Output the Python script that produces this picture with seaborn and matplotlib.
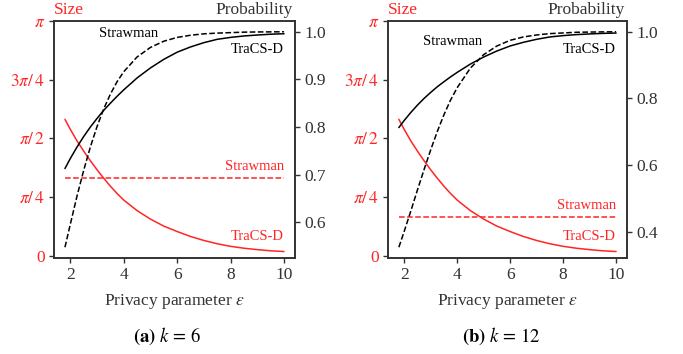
import numpy as np
import pandas as pd
import matplotlib
matplotlib.use("Agg")
import matplotlib.pyplot as plt
import seaborn as sns

# ---------------- data ----------------
eps = [1.8, 2.0, 2.25, 2.5, 2.75, 3.0, 3.25, 3.5, 3.75, 4.0, 4.5, 5.0, 5.5,
       6.0, 6.5, 7.0, 7.5, 8.0, 8.5, 9.0, 9.5, 10.0]
tracs_prob = [0.713, 0.734, 0.758, 0.780, 0.800, 0.818, 0.835, 0.850, 0.8645,
              0.878, 0.903, 0.924, 0.942, 0.957, 0.968, 0.977, 0.984, 0.988,
              0.991, 0.993, 0.9947, 0.9957]
straw_prob_k6 = [0.548, 0.596, 0.655, 0.709, 0.758, 0.801, 0.838, 0.869, 0.895,
                 0.916, 0.947, 0.967, 0.980, 0.988, 0.9925, 0.9955, 0.997,
                 0.998, 0.999, 0.9994, 0.9996, 0.9998]
straw_prob_k12 = [0.355, 0.402, 0.463, 0.526, 0.587, 0.646, 0.701, 0.751,
                  0.795, 0.832, 0.891, 0.931, 0.957, 0.974, 0.984, 0.990,
                  0.994, 0.996, 0.998, 0.9986, 0.9992, 0.9995]
# TraCS-D size, in units of pi
tracs_size_pi = [0.5815, 0.539, 0.490, 0.4465, 0.4055, 0.367, 0.331, 0.297,
                 0.266, 0.238, 0.193, 0.157, 0.127, 0.104, 0.083, 0.066,
                 0.052, 0.041, 0.033, 0.027, 0.022, 0.019]
straw_eps = [1.8, 10.0]
straw_size_k6 = [1.047, 1.047]
straw_size_k12 = [0.524, 0.524]

size_ticks = [0, np.pi / 4, np.pi / 2, 3 * np.pi / 4, np.pi]
size_ticklabels = ["0", r"$\pi/\,4$", r"$\pi/\,2$", r"$3\pi/\,4$", r"$\pi$"]
prob_ticks_k6 = [0.6, 0.7, 0.8, 0.9, 1.0]
prob_ticks_k12 = [0.4, 0.6, 0.8, 1.0]
captions = [r"$\mathbf{(a)}\ k\,=\,6$", r"$\mathbf{(b)}\ k\,=\,12$"]

# ---------------- style ----------------
sns.set_style("ticks")
plt.rcParams["font.family"] = ["Liberation Serif", "DejaVu Serif"]
plt.rcParams["mathtext.fontset"] = "stix"

RED = "#ff2525"
DARK = "#333333"
W, H = 683, 354

fig = plt.figure(figsize=(W / 100, H / 100), dpi=100)

panels = [
    dict(left=54, right=295, straw_prob=straw_prob_k6, straw_size=straw_size_k6,
         pticks=prob_ticks_k6, cap=captions[0], capx=167,
         sw_xy=(4.19, 0.997), tr_y=0.962, rs_y=0.379 * np.pi, rt_y=0.085 * np.pi),
    dict(left=388, right=627, straw_prob=straw_prob_k12, straw_size=straw_size_k12,
         pticks=prob_ticks_k12, cap=captions[1], capx=501,
         sw_xy=(3.84, 0.969), tr_y=0.947, rs_y=0.216 * np.pi, rt_y=0.082 * np.pi),
]
top, bottom = 21, 258

for p in panels:
    ax = fig.add_axes([p["left"] / W, 1 - bottom / H,
                       (p["right"] - p["left"]) / W, (bottom - top) / H])
    ax2 = ax.twinx()

    df_size = pd.DataFrame({"eps": eps, "size": np.pi * np.array(tracs_size_pi)})
    df_ssize = pd.DataFrame({"eps": straw_eps, "size": p["straw_size"]})
    df_prob = pd.DataFrame({"eps": eps, "tracs": tracs_prob, "straw": p["straw_prob"]})

    sns.lineplot(data=df_size, x="eps", y="size", ax=ax, color=RED, lw=1.1)
    sns.lineplot(data=df_ssize, x="eps", y="size", ax=ax, color=RED, lw=1.1,
                 linestyle="--")
    sns.lineplot(data=df_prob, x="eps", y="tracs", ax=ax2, color="black", lw=1.1)
    sns.lineplot(data=df_prob, x="eps", y="straw", ax=ax2, color="black", lw=1.1,
                 linestyle="--")

    ax.set_ylim(-0.027, np.pi)
    ax.set_yticks(size_ticks)
    ax.set_yticklabels(size_ticklabels)
    ax.set_xticks([2, 4, 6, 8, 10])
    ax2.set_yticks(p["pticks"])
    ax2.set_yticklabels([f"{v:.1f}" for v in p["pticks"]])

    ax.set_ylabel("")
    ax2.set_ylabel("")
    ax.set_xlabel(r"Privacy parameter $\varepsilon$", fontsize=12.5, color=DARK)
    ax.xaxis.label.set_va("center")
    ax.xaxis.set_label_coords(0.5, -(301.7 - bottom) / (bottom - top))

    for a in (ax, ax2):
        for s in a.spines.values():
            s.set_color(DARK)
            s.set_linewidth(1.2)
        a.tick_params(length=3.5, width=1.0, color=DARK, labelsize=12.5, pad=3)
    ax.tick_params(axis="y", labelcolor=RED)
    ax.tick_params(axis="x", labelcolor=DARK)
    ax2.tick_params(axis="y", labelcolor=DARK)

    ax.text(0.0, 1 + 11 / (bottom - top), "Size", transform=ax.transAxes,
            ha="left", va="center", color=RED, fontsize=12.5)
    ax.text(1 - 2 / (p["right"] - p["left"]), 1 + 11 / (bottom - top), "Probability",
            transform=ax.transAxes, ha="right", va="center", color=DARK, fontsize=12.5)

    ax2.text(p["sw_xy"][0], p["sw_xy"][1], "Strawman", ha="center", va="center",
             color="black", fontsize=10.5)
    ax2.text(10, p["tr_y"], "TraCS-D", ha="right", va="center", color="black",
             fontsize=10.5)
    ax.text(10, p["rs_y"], "Strawman", ha="right", va="center", color=RED,
            fontsize=10.5)
    ax.text(10, p["rt_y"], "TraCS-D", ha="right", va="center", color=RED,
            fontsize=10.5)

    fig.text(p["capx"] / W, 1 - 336 / H, p["cap"], ha="center", va="center",
             fontsize=13.5, color="black")

fig.savefig("out.png", dpi=100)
